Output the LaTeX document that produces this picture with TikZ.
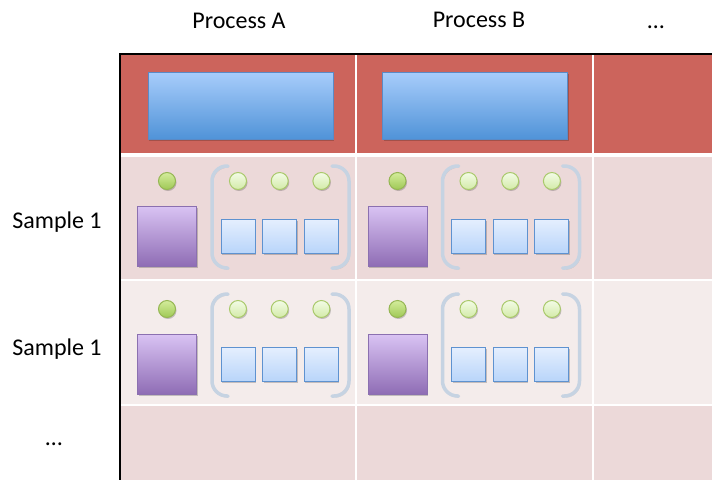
\documentclass[tikz,border=0pt]{standalone}
\usepackage{fontspec}
\setmainfont{Carlito}
\usetikzlibrary{positioning, calc, shadows}

\definecolor{headred}{HTML}{CC645C}
\definecolor{rowdark}{HTML}{ECD9D9}
\definecolor{rowlight}{HTML}{F4ECEB}
\definecolor{brackgray}{HTML}{C6D3E2}

\begin{document}
\begin{tikzpicture}[x=1pt, y=-1pt,
  lbl/.style={font=\fontsize{24}{28}\selectfont, anchor=base, inner sep=0pt},
  soft/.style={drop shadow={shadow xshift=1pt, shadow yshift=-1.5pt, opacity=0.2, fill=black}},
  headbox/.style={soft, draw={rgb,255:red,90;green,138;blue,198}, line width=1pt, top color={rgb,255:red,168;green,205;blue,251}, bottom color={rgb,255:red,80;green,147;blue,216}, minimum width=185pt, minimum height=67pt, inner sep=0pt},
  bigsq/.style={soft, draw={rgb,255:red,139;green,112;blue,176}, line width=1pt, top color={rgb,255:red,217;green,195;blue,243}, bottom color={rgb,255:red,143;green,109;blue,181}, minimum width=59pt, minimum height=60pt, inner sep=0pt},
  smallsq/.style={soft, draw={rgb,255:red,94;green,146;blue,208}, line width=1pt, top color={rgb,255:red,229;green,239;blue,254}, bottom color={rgb,255:red,185;green,213;blue,250}, minimum size=34pt, inner sep=0pt},
  dot/.style={soft, circle, draw={rgb,255:red,149;green,182;blue,83}, line width=1pt, top color={rgb,255:red,212;green,236;blue,156}, bottom color={rgb,255:red,159;green,201;blue,85}, minimum size=17pt, inner sep=0pt},
  ring/.style={soft, circle, draw={rgb,255:red,169;green,201;blue,106}, line width=1pt, top color={rgb,255:red,243;green,251;blue,230}, bottom color={rgb,255:red,211;green,235;blue,168}, minimum size=17pt, inner sep=0pt},
  brack/.style={draw=brackgray, line width=3.5pt, rounded corners=15pt, line cap=round, preaction={draw=black, draw opacity=0.1, transform canvas={shift={(1pt,-1.5pt)}}}},
  gridline/.style={draw=white, line width=2pt}]
\useasboundingbox (0,0) rectangle (712,480);
% table background
\fill[headred] (120,54) rectangle (712,155);
\fill[rowdark] (120,155) rectangle (712,280);
\fill[rowlight] (120,280) rectangle (712,405);
\fill[rowdark] (120,405) rectangle (712,480);
\draw[gridline, line width=3.5pt] (121,155) -- (712,155);
\draw[gridline] (121,280) -- (712,280);
\draw[gridline] (121,405) -- (712,405);
\draw[gridline] (356,55) -- (356,480);
\draw[gridline] (593,55) -- (593,480);
\draw[line width=1.5pt] (712,54) -- (120,54) -- (120,480);
% headings
\node[lbl] (procA) at (239,28) {Process A};
\node[lbl] (procB) at (479,27) {Process B};
\node[lbl] (procMore) at (656,28) {\dots};
\node[lbl] (sampleOne) at (57,228) {Sample 1};
\node[lbl] (sampleTwo) at (57,355) {Sample 1};
\node[lbl] (sampleMore) at (54,445) {\dots};
% process blocks
\node[headbox] (headA) at (240.5,105.5) {};
\node[headbox] (headB) at (475,105.5) {};
% cells
\foreach \c/\cx in {A/0,B/230.5}{
  \foreach \r/\ry in {1/0,2/128}{
    \node[dot] (dot\c\r) at ({167+\cx},{181+\ry}) {};
    \node[bigsq, below=15.5pt of dot\c\r] (big\c\r) {};
    \foreach \k in {1,2,3}{
      \node[ring] (ring\c\r\k) at ({196.3+41.7*\k+\cx},{181+\ry}) {};
      \node[smallsq, below=28.5pt of ring\c\r\k] (sq\c\r\k) {};
    }
    \draw[brack] ({228+\cx},{166+\ry}) -- ({212+\cx},{166+\ry}) -- ({212+\cx},{268+\ry}) -- ({228+\cx},{268+\ry});
    \draw[brack] ({332+\cx},{166+\ry}) -- ({349+\cx},{166+\ry}) -- ({349+\cx},{268+\ry}) -- ({332+\cx},{268+\ry});
  }
}
\end{tikzpicture}
\end{document}
